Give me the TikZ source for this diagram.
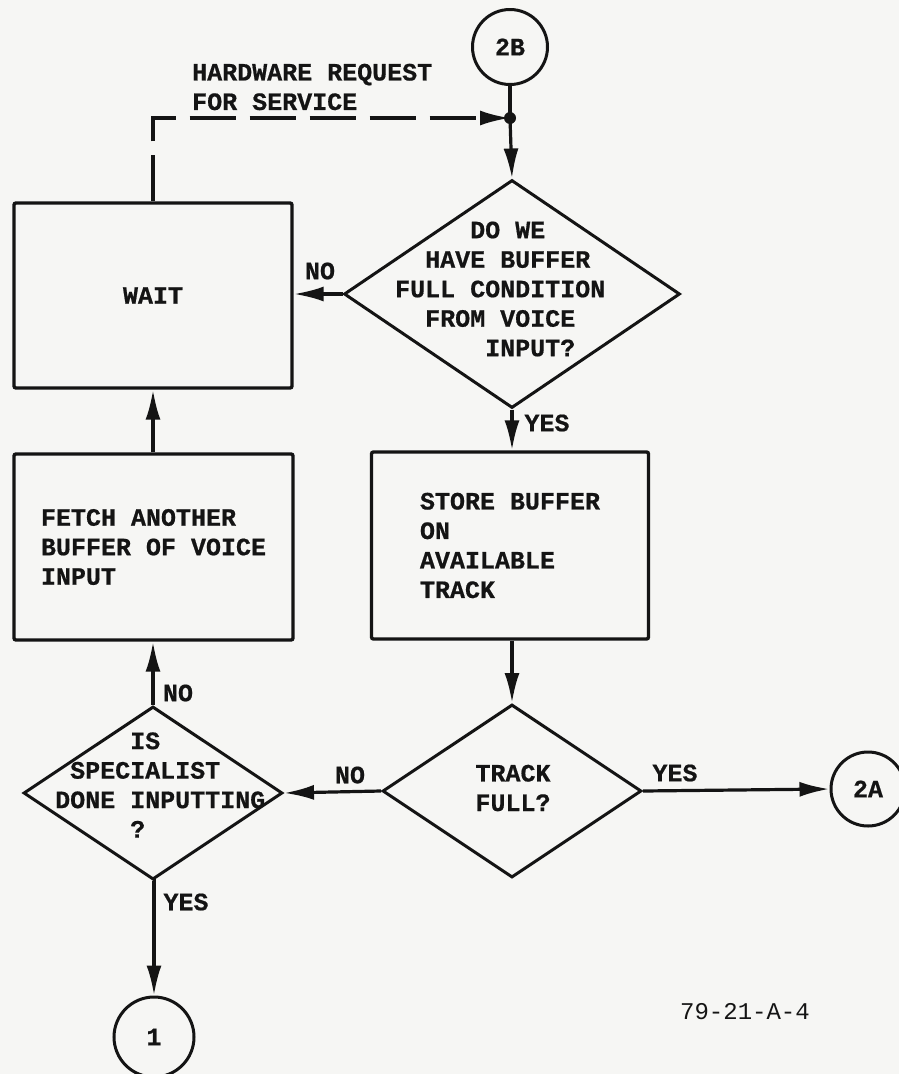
\documentclass[tikz,border=0pt]{standalone}
\usepackage{fontspec}
\newfontfamily\typ{Liberation Mono}
\newfontfamily\typb{Liberation Mono Bold}[FakeBold=0.6]
\usetikzlibrary{arrows.meta,shapes.geometric,calc}
\definecolor{bg}{RGB}{246,246,244}
\definecolor{ink}{RGB}{20,20,20}
\tikzset{
  tt/.style={font=\typb\fontsize{25}{29.5}\selectfont, text=ink},
  procbox/.style={tt, draw=ink, line width=3.4pt, rectangle, rounded corners=2pt, inner sep=0pt, align=left},
  decision/.style={draw=ink, line width=3pt, diamond, inner sep=0pt},
  connector/.style={tt, circle, draw=ink, line width=3pt, inner sep=0pt},
  lab/.style={tt, inner sep=0pt},
  wire/.style={draw=ink, line width=3.2pt},
  flow/.style={wire, -{Latex[length=30pt,width=15pt]}},
}
\begin{document}
\begin{tikzpicture}[x=1pt,y=-1pt]
\fill[bg] (0,0) rectangle (899,1074);
\useasboundingbox (0,0) rectangle (899,1074);

% connectors
\node[connector, minimum size=75pt] (c2B) at (510,47) {2B};
\node[connector, minimum size=74pt] (c2A) at (868,789) {2A};
\node[connector, minimum size=80pt] (c1) at (154,1037) {1};
\coordinate (jn) at (510,118);

% boxes
\node[procbox, minimum width=278pt, minimum height=185pt] (wait) at (153,295.5) {WAIT};
\node[procbox, minimum width=279pt, minimum height=186pt] (fetch) at (153.5,547) {FETCH ANOTHER\\BUFFER OF VOICE\\INPUT};
\node[procbox, minimum width=277pt, minimum height=187pt] (store) at (510,545.5) {STORE BUFFER\\ON\\AVAILABLE\\TRACK};

% decisions
\node[decision, minimum width=336pt, minimum height=228pt] (d1) at (512,294) {};
\node[lab, align=left, anchor=west] (d1t) at (395,289) {\phantom{XXXXX}DO WE\\\phantom{XX}HAVE BUFFER\\FULL CONDITION\\\phantom{XX}FROM VOICE\\\phantom{XXXXXX}INPUT?};

\node[decision, minimum width=259pt, minimum height=173pt] (track) at (512,791) {};
\node[lab, align=center] (trackt) at (513,788) {TRACK\\FULL?};

\node[decision, minimum width=259pt, minimum height=173pt] (spec) at (153,793) {};
\node[lab, align=left, anchor=west] (spect) at (55,785) {\phantom{XXXXX}IS\\\phantom{X}SPECIALIST\\DONE INPUTTING\\\phantom{XXXXX}?};

% labels
\node[lab, align=left, anchor=west] (hw) at (192,87) {HARDWARE REQUEST\\FOR SERVICE};
\node[lab] (no1) at (320,271) {NO};
\node[lab] (yes1) at (547,423) {YES};
\node[lab] (no2) at (350,775) {NO};
\node[lab] (yes2) at (675,773) {YES};
\node[lab] (no3) at (178,693) {NO};
\node[lab] (yes3) at (186,902) {YES};
\node[font=\typ\fontsize{24}{28}\selectfont, text=ink, inner sep=0pt] (code) at (745,1012) {79-21-A-4};

% flow lines
\draw[wire] (c2B.south) -- (jn);
\fill[ink] (jn) circle (6pt);
\draw[flow] (jn) -- (d1.north);
\draw[flow, dash pattern=on 46pt off 14pt] (wait.north) -- (wait.north |- jn) -- (jn);
\draw[flow] (d1.west) -- (d1.west -| wait.east);
\draw[flow] (d1.south) -- (d1.south |- store.north);
\draw[flow] (store.south -| track.north) -- (track.north);
\draw[flow] (track.west) -- (spec.east);
\draw[flow] (track.east) -- (c2A.west);
\draw[flow] (spec.north) -- (spec.north |- fetch.south);
\draw[flow] (fetch.north -| wait.south) -- (wait.south);
\draw[flow] (spec.south) -- (spec.south -| c1.north) -- (c1.north);
\end{tikzpicture}
\end{document}
